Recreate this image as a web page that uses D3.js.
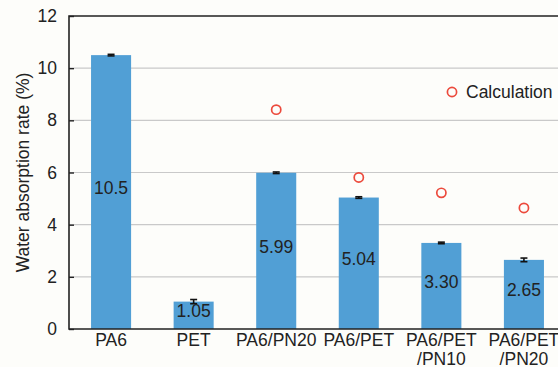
<!DOCTYPE html>
<html>
<head>
<meta charset="utf-8">
<script src="https://cdn.jsdelivr.net/npm/d3@7"></script>
<style>
  html, body { margin: 0; padding: 0; background: #fdfdfa; }
  svg { display: block; }
  text { font-family: "Liberation Sans", Arial, sans-serif; fill: #222; }
</style>
</head>
<body>
<svg id="chart" width="558" height="367"></svg>
<script>
// Measured water absorption per sample, with error, and the calculated (rule-of-mixtures) estimate
const categories = [["PA6"], ["PET"], ["PA6/PN20"], ["PA6/PET"], ["PA6/PET", "/PN10"], ["PA6/PET", "/PN20"]];
const measured = [10.5, 1.05, 5.99, 5.04, 3.30, 2.65];
const measuredLabels = ["10.5", "1.05", "5.99", "5.04", "3.30", "2.65"];
const errors = [0.03, 0.08, 0.03, 0.03, 0.03, 0.07];
const calculated = [null, null, 8.41, 5.81, 5.22, 4.64];
const yTicks = [0, 2, 4, 6, 8, 10, 12];

const W = 558, H = 367;
const margin = { left: 69, top: 16, bottom: 38 };
const plotRight = 566;

const svg = d3.select("#chart");
svg.append("rect").attr("width", W).attr("height", H).attr("fill", "#fdfdfa");

const keys = categories.map(c => c.join(" "));
const x = d3.scaleBand()
  .domain(keys)
  .range([margin.left, plotRight])
  .paddingInner(0.515)
  .paddingOuter(0.267);

const y = d3.scaleLinear().domain([0, 12]).range([H - margin.bottom, margin.top]);

// horizontal gridlines
svg.append("g")
  .selectAll("line")
  .data(yTicks.filter(t => t > 0 && t < 12))
  .join("line")
  .attr("x1", margin.left).attr("x2", W)
  .attr("y1", d => y(d)).attr("y2", d => y(d))
  .attr("stroke", "#c9c9c9").attr("stroke-width", 1.2);

// bars
svg.append("g")
  .selectAll("rect")
  .data(measured)
  .join("rect")
  .attr("x", (d, i) => x(keys[i]))
  .attr("width", x.bandwidth())
  .attr("y", d => y(d))
  .attr("height", d => y(0) - y(d))
  .attr("fill", "#519fd5");

// error bars
const eg = svg.append("g").attr("stroke", "#111").attr("stroke-width", 1.6);
measured.forEach((v, i) => {
  const cx = x(keys[i]) + x.bandwidth() / 2;
  const e = errors[i];
  eg.append("line").attr("x1", cx).attr("x2", cx).attr("y1", y(v + e)).attr("y2", y(v - e));
  eg.append("line").attr("x1", cx - 3.5).attr("x2", cx + 3.5).attr("y1", y(v + e)).attr("y2", y(v + e));
  eg.append("line").attr("x1", cx - 3.5).attr("x2", cx + 3.5).attr("y1", y(v - e)).attr("y2", y(v - e));
});

// value labels inside bars
svg.append("g")
  .selectAll("text")
  .data(measured)
  .join("text")
  .attr("x", (d, i) => x(keys[i]) + x.bandwidth() / 2)
  .attr("y", d => y(d / 2) - 4)
  .attr("text-anchor", "middle")
  .attr("dominant-baseline", "central")
  .attr("font-size", "17.5px")
  .text((d, i) => measuredLabels[i]);

// calculated values
svg.append("g")
  .selectAll("circle")
  .data(calculated.map((v, i) => ({ v, i })).filter(d => d.v !== null))
  .join("circle")
  .attr("cx", d => x(keys[d.i]) + x.bandwidth() / 2)
  .attr("cy", d => y(d.v))
  .attr("r", 4.6)
  .attr("fill", "none")
  .attr("stroke", "#ec4a3c")
  .attr("stroke-width", 1.7);

// frame: left axis, bottom axis, top border
const frame = svg.append("g").attr("stroke", "#222").attr("stroke-width", 1.6).attr("fill", "none");
frame.append("path").attr("d", `M${W},${y(12)}H${margin.left}V${y(0)}H${W}`);

// y axis with inward ticks
const yAxis = d3.axisLeft(y).tickValues(yTicks).tickSize(-5).tickPadding(12).tickFormat(d3.format("d"));
const ya = svg.append("g").attr("transform", `translate(${margin.left},0)`).call(yAxis);
ya.select(".domain").remove();
ya.selectAll(".tick line").attr("stroke", "#222").attr("stroke-width", 1.4);
ya.selectAll(".tick text").attr("font-size", "17.5px").attr("fill", "#222")
  .attr("font-family", "Liberation Sans, Arial, sans-serif");

// category labels (two-line where needed)
const xl = svg.append("g");
categories.forEach((lines, i) => {
  const t = xl.append("text")
    .attr("x", x(keys[i]) + x.bandwidth() / 2)
    .attr("y", y(0) + 17)
    .attr("text-anchor", "middle")
    .attr("font-size", "17.5px");
  lines.forEach((s, j) => {
    t.append("tspan").attr("x", x(keys[i]) + x.bandwidth() / 2).attr("dy", j === 0 ? 0 : 18.5).text(s);
  });
});

// y axis title
svg.append("text")
  .attr("transform", `translate(29,${(y(0) + y(12)) / 2}) rotate(-90)`)
  .attr("text-anchor", "middle")
  .attr("font-size", "17.5px")
  .text("Water absorption rate (%)");

// legend
const lg = svg.append("g").attr("transform", "translate(452,92)");
lg.append("circle").attr("r", 4.6).attr("fill", "none").attr("stroke", "#ec4a3c").attr("stroke-width", 1.7);
lg.append("text").attr("x", 14).attr("dominant-baseline", "central").attr("font-size", "17.5px").text("Calculation");
</script>
</body>
</html>
